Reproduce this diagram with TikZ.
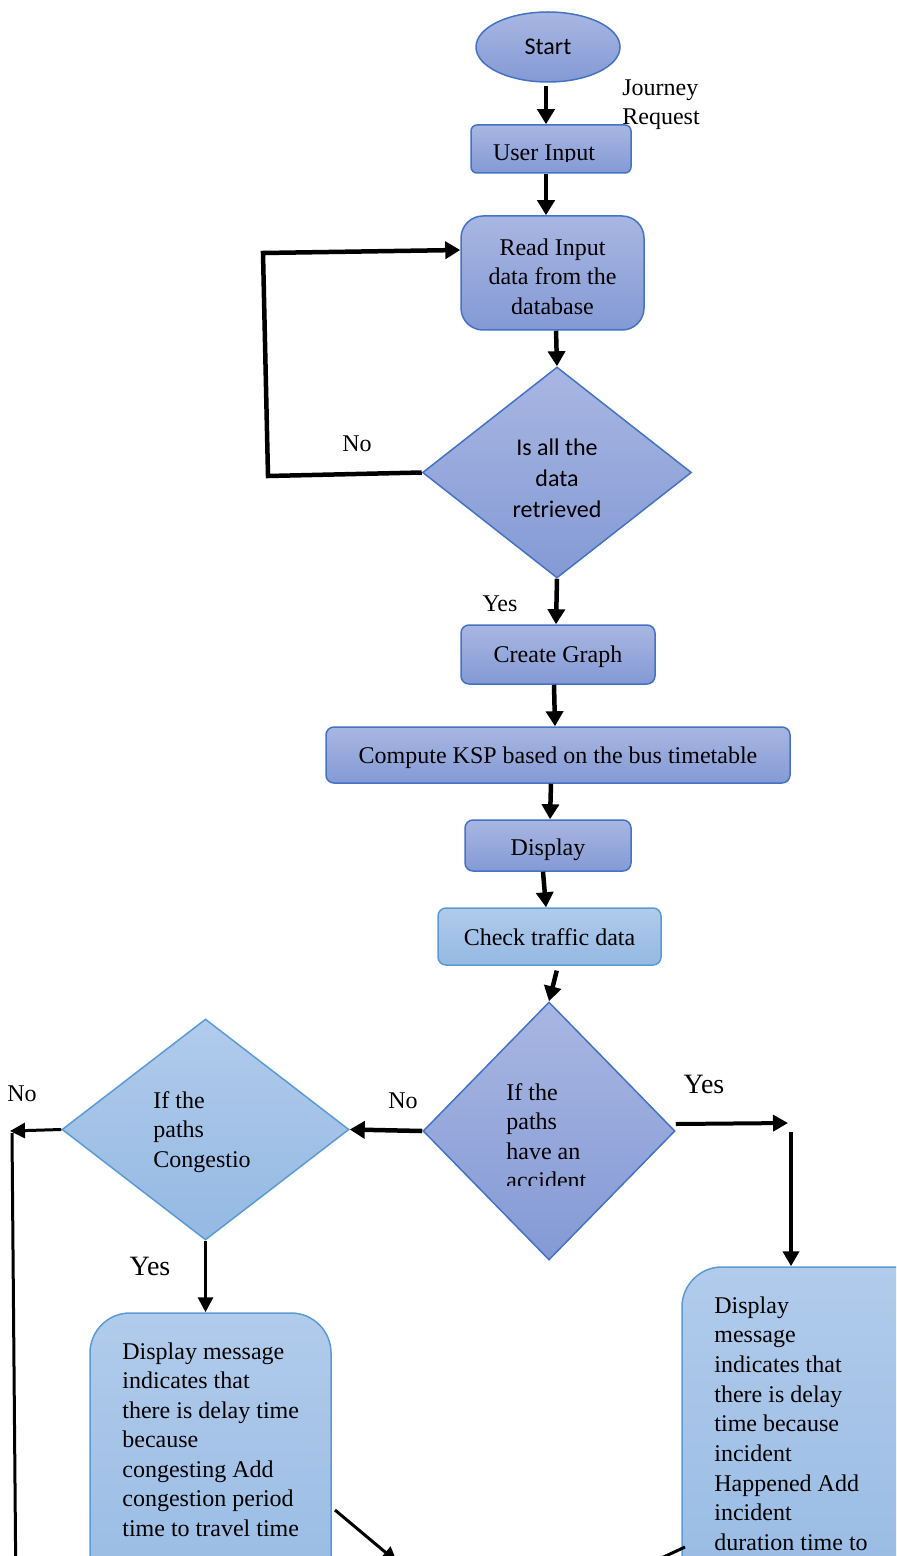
\documentclass[tikz,border=0pt]{standalone}
\usepackage{fontspec}
\setmainfont{Liberation Serif}
\newfontfamily\carlito{Carlito}
\usetikzlibrary{shapes.geometric,arrows.meta}
\definecolor{violetTop}{RGB}{168,182,226}
\definecolor{violetBot}{RGB}{132,154,213}
\definecolor{violetLine}{RGB}{68,114,196}
\definecolor{skyTop}{RGB}{177,203,235}
\definecolor{skyBot}{RGB}{148,185,227}
\definecolor{skyLine}{RGB}{91,155,213}
\tikzset{
  violet/.style={draw=violetLine, line width=0.75pt, top color=violetTop, bottom color=violetBot},
  sky/.style={draw=skyLine, line width=0.75pt, top color=skyTop, bottom color=skyBot},
  procbox/.style={rectangle, rounded corners=4pt, inner sep=0pt},
  decision/.style={diamond, inner sep=0pt},
  txt/.style={font=\fontsize{12}{14.75}\selectfont, inner sep=0pt},
  bigtxt/.style={font=\fontsize{14}{16}\selectfont, inner sep=0pt},
  flow/.style={line width=2.25pt, -{Triangle[length=7.5pt,width=8.5pt]}},
  midflow/.style={line width=2pt, -{Triangle[length=7.5pt,width=8pt]}},
  thinflow/.style={line width=1.5pt, -{Triangle[length=7.5pt,width=7.5pt]}},
}
\begin{document}
\begin{tikzpicture}[x=0.5pt,y=-0.5pt]
\useasboundingbox (0,0) rectangle (896,1556);
\clip (0,0) rectangle (896,1556);

% upper chain
\node[violet, ellipse, minimum width=72pt, minimum height=35pt, inner sep=0pt,
      font=\carlito\fontsize{12}{14}\selectfont] (start) at (548,47) {Start};
\node[txt, anchor=north west, align=left] (journey) at (622,79) {Journey\\Request};

\node[violet, procbox, rounded corners=3pt, minimum width=80pt, minimum height=24pt] (user) at (551,149) {};
\begin{scope}
  \clip (471,125) rectangle (631,162);
  \node[txt, anchor=base] (usertxt) at (544,161) {User Input};
\end{scope}

\node[violet, procbox, rounded corners=11pt, minimum width=91.5pt, minimum height=57pt] (read) at (552.5,273) {};
\node[txt, align=center] (readtxt) at (552.5,276.5) {Read Input\\data from the\\database};

\node[violet, decision, minimum width=134.5pt, minimum height=105.5pt] (d1) at (557,472.5) {};
\node[font=\carlito\fontsize{12}{15.5}\selectfont, align=center, inner sep=0pt] (d1txt) at (557,478)
  {Is all the\\data\\retrieved};

\node[violet, procbox, minimum width=97pt, minimum height=29.5pt] (graph) at (558,654.5) {};
\node[txt] (graphtxt) at (558,656.5) {Create Graph};
\node[violet, procbox, minimum width=232pt, minimum height=28pt] (ksp) at (558,755) {};
\node[txt] (ksptxt) at (558,758) {Compute KSP based on the bus timetable};
\node[violet, procbox, minimum width=83pt, minimum height=25.5pt] (disp) at (548,845.5) {};
\node[txt] (disptxt) at (548,849.5) {Display};
\node[sky, procbox, minimum width=111.5pt, minimum height=28.5pt] (check) at (549.5,936.5) {};
\node[txt] (checktxt) at (549.5,937) {Check traffic data};

% decisions on traffic
\node[violet, decision, minimum width=126pt, minimum height=129pt] (d2) at (549,1131) {};
\begin{scope}
  \clip (430,1000) rectangle (670,1185);
  \node[txt, anchor=north west, align=left] (d2txt) at (506,1083) {If the\\paths\\have an\\accident};
\end{scope}

\node[sky, decision, minimum width=143.5pt, minimum height=110.5pt] (d3) at (205.5,1129.5) {};
\node[txt, anchor=north west, align=left] (d3txt) at (153,1091) {If the\\paths\\Congestio};

% message boxes
\node[sky, rectangle, rounded corners=20pt, minimum width=120.5pt, minimum height=163.5pt, inner sep=0pt] (msgL) at (210.5,1476.5) {};
\node[txt, anchor=north west, align=left] (msgLtxt) at (122,1342)
  {Display message\\indicates that\\there is delay time\\because\\congesting Add\\congestion period\\time to travel time};

\node[sky, rectangle, rounded corners=20pt, minimum width=129pt, minimum height=186.5pt, inner sep=0pt] (msgR) at (811,1453.5) {};
\node[txt, anchor=north west, align=left, font=\fontsize{12}{14.85}\selectfont] (msgRtxt) at (714,1296)
  {Display\\message\\indicates that\\there is delay\\time because\\incident\\Happened Add\\incident\\duration time to};

% labels
\node[txt] (noLoop) at (357,444) {No};
\node[txt] (yesData) at (500,604) {Yes};
\node[txt] (noAcc) at (403,1101) {No};
\node[bigtxt] (yesAcc) at (704,1084) {Yes};
\node[txt] (noCong) at (22,1094) {No};
\node[bigtxt] (yesCong) at (150,1266) {Yes};

% free ends of connectors
\coordinate (loopA) at (268,476);
\coordinate (loopB) at (263,253);
\coordinate (yesEnd) at (788,1123);
\coordinate (yesDrop) at (791,1132);
\coordinate (noEnd) at (10,1131);
\coordinate (noTop) at (12,1133);
\coordinate (noBot) at (16,1600);
\coordinate (congOut) at (335,1510);
\coordinate (congIn) at (397,1562);
\coordinate (incOut) at (685,1547);
\coordinate (incIn) at (640,1568);

% connectors
\draw[flow, shorten <=1.5pt] ([xshift=-1pt]start.south) -- ([xshift=-2.5pt]user.north);
\draw[flow] ([xshift=-2.5pt]user.south) -- ([xshift=-3.25pt]read.north);
\draw[flow] ([xshift=1.75pt]read.south) -- (d1.north);
\draw[flow] (d1.west) -- (loopA) -- (loopB) -- ([yshift=11.5pt]read.west);
\draw[flow] (d1.south) -- ([xshift=-1pt]graph.north);
\draw[flow] ([xshift=-2pt]graph.south) -- ([xshift=-1.5pt]ksp.north);
\draw[flow] ([xshift=-3.5pt]ksp.south) -- ([xshift=1pt]disp.north);
\draw[flow] ([xshift=-2.5pt]disp.south) -- ([xshift=-1.75pt]check.north);
\draw[flow, shorten <=2.5pt] ([xshift=4.25pt]check.south) -- (d2.north);
\draw[flow] (d2.west) -- (d3.east);
\draw[midflow] ([yshift=3.5pt]d2.east) -- (yesEnd);
\draw[midflow] (yesDrop) -- (yesDrop |- msgR.north);
\draw[thinflow] (d3.west) -- (noEnd);
\draw[line width=1.5pt] (noTop) -- (noBot);
\draw[thinflow] (d3.south) -- (d3.south |- msgL.north);
\draw[thinflow] (congOut) -- (congIn);
\draw[line width=1.5pt] (incOut) -- (incIn);
\end{tikzpicture}
\end{document}
